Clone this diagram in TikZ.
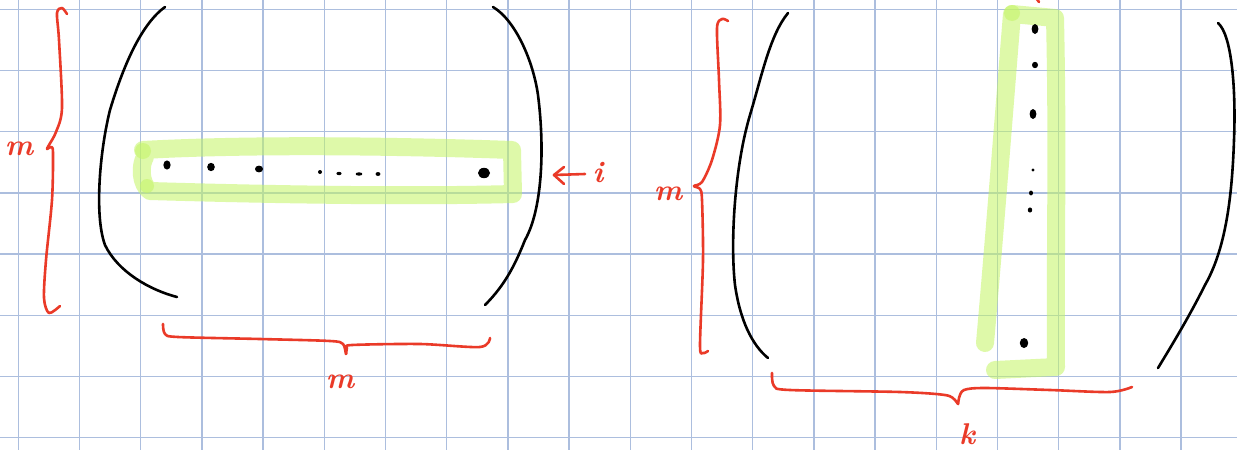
\documentclass[tikz,border=0pt]{standalone}
\usetikzlibrary{arrows.meta}
\definecolor{gridc}{RGB}{172,190,222}
\definecolor{pen}{RGB}{234,58,40}
\definecolor{hl}{RGB}{195,245,100}
\tikzset{
  gridline/.style={gridc,line width=0.65pt},
  inkline/.style={black,line width=1.3pt,line cap=round,line join=round},
  redline/.style={pen,line width=1.3pt,line cap=round,line join=round},
  marker/.style={hl,line width=9pt,opacity=0.55,line cap=round,line join=round},
  markdot/.style={hl,opacity=0.55},
  lbl/.style={text=pen,font=\fontsize{15}{15}\selectfont\bfseries\itshape,inner sep=0pt}
}
\begin{document}
\begin{tikzpicture}[x=0.5pt,y=-0.5pt]
\useasboundingbox (0,0) rectangle (1237,450);
\fill[white] (0,0) rectangle (1237,450);
% grid paper
\foreach \k in {0,...,19} \draw[gridline] ({18.3+61.2*\k},0) -- ({18.3+61.2*\k},450);
\foreach \k in {0,...,7} \draw[gridline] (0,{9.3+61.2*\k}) -- (1237,{9.3+61.2*\k});

% ---------- left matrix ----------
% highlighted row
\draw[marker] (143,150) .. controls (250,144) and (400,146) .. (512,150)
  -- (513,194) .. controls (400,197) and (250,194) .. (150,191)
  .. controls (140,184) and (140,165) .. (145,157);
\fill[markdot] (143,151) circle (8);
\fill[markdot] (147,186) circle (7);
% parentheses
\draw[inkline] (165,7) .. controls (140,25) and (122,70) .. (110,110)
  .. controls (100,150) and (94,215) .. (105,245)
  .. controls (118,272) and (150,290) .. (177,297);
\draw[inkline] (493,7) .. controls (515,20) and (533,60) .. (538,95)
  .. controls (545,150) and (542,210) .. (525,240)
  .. controls (515,265) and (505,285) .. (485,305);
% row entries
\fill (167,165) ellipse [x radius=3.6, y radius=4.6];
\fill (211,167) ellipse [x radius=3.8, y radius=4.2];
\fill (259,169) ellipse [x radius=4, y radius=3.4];
\fill (320,172) circle (2);
\fill (339,173.5) ellipse [x radius=2.6, y radius=1.7];
\fill (359,174) ellipse [x radius=3.4, y radius=1.7];
\fill (378,174) ellipse [x radius=2.4, y radius=2];
\fill (484,173) ellipse [x radius=6, y radius=5.2];
% braces and labels
\draw[redline] plot[smooth,tension=0.5] coordinates {(67,14) (62,8) (57,13) (59,40) (62,108) (56,132) (49,145) (47,149) (51,147) (53,153) (52,200) (46,260) (44,298) (49,313) (60,306)};
\node[lbl] (lm) at (19,149) {m};
\draw[redline] plot[smooth,tension=0.5] coordinates {(163,324) (165,334) (178,337) (260,339) (330,341) (343,344) (346,354) (347,348) (352,345) (420,344) (480,347) (490,338)};
\node[lbl] (bn) at (340,382) {m};
\coordinate (atail) at (585,174);
\coordinate (ahead) at (554,175);
\draw[redline] (atail) -- (ahead);
\draw[redline] (564,167) -- (ahead) -- (564,184);
\node[lbl] (li) at (598,173) {i};

% ---------- right matrix ----------
\draw[marker] (985,343) .. controls (995,230) and (1005,100) .. (1012,14)
  -- (1055,18) .. controls (1058,150) and (1055,260) .. (1056,367) -- (995,370);
\fill[markdot] (1012,13) circle (8);
\draw[redline] (1036,-2) -- (1039,2);
% parentheses
\draw[inkline] (788,13) .. controls (770,35) and (762,75) .. (750,115)
  .. controls (735,165) and (730,240) .. (735,285)
  .. controls (740,320) and (752,345) .. (768,358);
\draw[inkline] (1218,23) .. controls (1232,35) and (1236,90) .. (1234,140)
  .. controls (1232,200) and (1225,250) .. (1205,285)
  .. controls (1190,315) and (1175,340) .. (1158,368);
% column entries
\fill (1035,29) ellipse [x radius=3.4, y radius=5];
\fill (1035,65) ellipse [x radius=3, y radius=3.2];
\fill (1033,114) ellipse [x radius=3.4, y radius=5];
\fill (1033,170) circle (1.6);
\fill (1031,193) ellipse [x radius=2, y radius=2.4];
\fill (1030,210) ellipse [x radius=2.2, y radius=2.6];
\fill (1024,343) ellipse [x radius=4.2, y radius=5];
% braces and labels
\draw[redline] plot[smooth,tension=0.5] coordinates {(728,21) (722,19) (717,28) (719,80) (720,125) (712,160) (702,182) (694,186) (700,189) (702,200) (703,260) (700,345) (703,353) (708,351)};
\node[lbl] (rn) at (668,194) {m};
\draw[redline] plot[smooth,tension=0.5] coordinates {(772,373) (774,386) (790,390) (900,392) (945,395) (955,400) (958,404) (959,398) (964,390) (985,388) (1050,390) (1110,392) (1132,387)};
\node[lbl] (rk) at (967,434) {k};
\end{tikzpicture}
\end{document}
